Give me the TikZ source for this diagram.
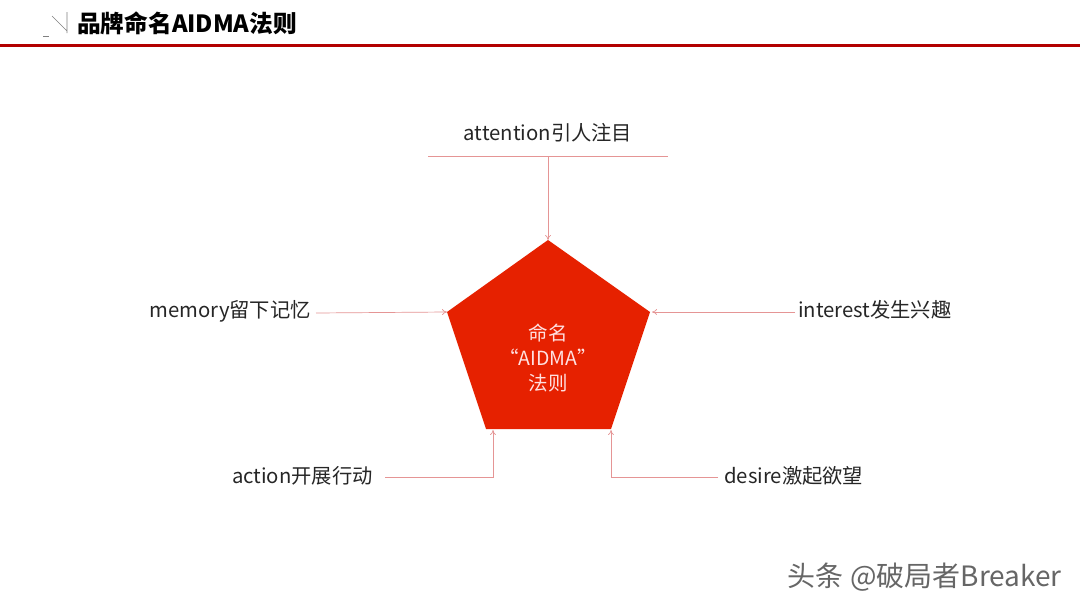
\documentclass[tikz,border=0pt]{standalone}
\usepackage{fontspec}
\usetikzlibrary{arrows.meta}
\setmainfont{Noto Sans CJK SC}
\begin{document}
\begin{tikzpicture}[x=1pt,y=-1pt,
  conn/.style={draw=red!35!white!90!black, line width=0.7pt},
  arr/.style={conn,-{To[length=5pt,width=6pt]}},
  lbl/.style={font=\fontsize{20.3}{22}\selectfont, text=black!85, inner sep=0pt}]
\useasboundingbox (0,0) rectangle (1080,608);
\fill[white] (0,0) rectangle (1080,608);
% header
\draw[line width=3pt, draw=red!70!black] (0,45) -- (1080,45);
\draw[gray, line width=0.6pt] (52,16) -- (67,31) (67,12) -- (67,33);
\draw[gray, line width=0.8pt] (43,36) -- (49,36);
\node[anchor=west, inner sep=0pt, font=\fontsize{23.7}{26}\selectfont\bfseries] (title) at (77,23) {品牌命名AIDMA法则};
% pentagon
\coordinate (pt) at (548,240);
\coordinate (pl) at (447,312);
\coordinate (pr) at (650,312);
\coordinate (pbl) at (486,429);
\coordinate (pbr) at (611,429);
\fill[fill={rgb,255:red,230;green,33;blue,0}] (pt) -- (pr) -- (pbr) -- (pbl) -- (pl) -- cycle;
\node[align=center, text=white!88!red, font=\fontsize{19.5}{25}\selectfont] (core) at (548,358) {命名\\“AIDMA”\\法则};
% labels
\node[lbl] (att) at (548,133) {attention引人注目};
\node[lbl, anchor=east] (mem) at (311,311) {memory留下记忆};
\node[lbl, anchor=west] (int) at (798,310) {interest发生兴趣};
\node[lbl, anchor=east] (act) at (373,476) {action开展行动};
\node[lbl, anchor=west] (des) at (724,476) {desire激起欲望};
% connectors
\coordinate (a1) at (428,156); \coordinate (a2) at (668,156); \coordinate (am) at (548,156);
\draw[conn] (a1) -- (a2);
\draw[arr] (am) -- (pt);
\coordinate (m1) at (316,313);
\draw[arr] (m1) -- (pl);
\coordinate (i1) at (795,312);
\draw[arr] (i1) -- ([xshift=2pt]pr);
\coordinate (c1) at (385,477); \coordinate (c2) at (493,477);
\draw[arr] (c1) -- (c2) -- (493,430);
\coordinate (d1) at (718,477); \coordinate (d2) at (611,477);
\draw[arr] (d1) -- (d2) -- (611,430);
% watermark
\node[anchor=east, inner sep=0pt, text=black!60, font=\fontsize{28}{30}\selectfont] (wm) at (1062,577) {头条 @破局者Breaker};
\end{tikzpicture}
\end{document}
